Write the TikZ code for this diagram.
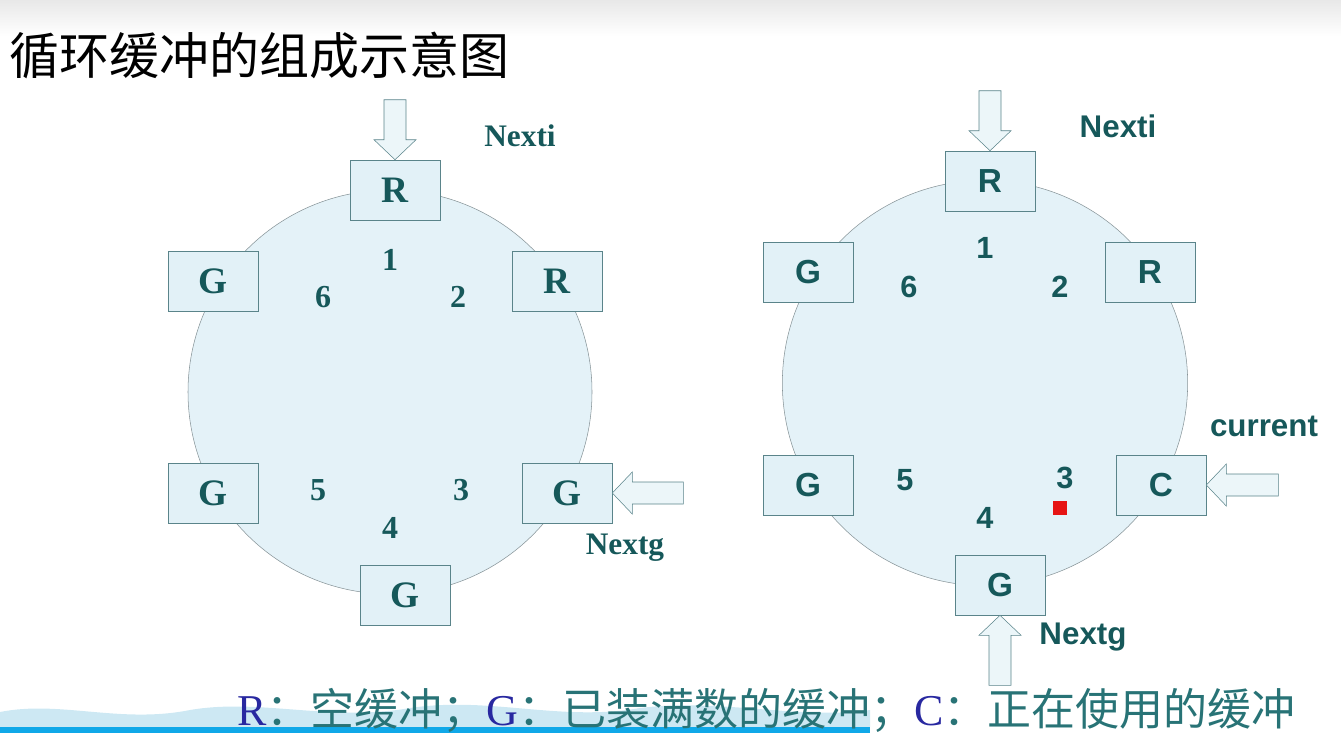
\documentclass[tikz,border=0pt]{standalone}
\usepackage{fontspec}
\setmainfont{Liberation Serif}
\setsansfont{Liberation Sans}
\newfontfamily\cjk{Noto Sans CJK SC}
\usetikzlibrary{positioning}
\definecolor{ringfill}{RGB}{228,242,248}
\definecolor{ringline}{RGB}{135,148,152}
\definecolor{boxfill}{RGB}{226,241,247}
\definecolor{boxline}{RGB}{90,132,138}
\definecolor{arrowfill}{RGB}{236,246,249}
\definecolor{tealtext}{RGB}{22,88,90}
\definecolor{legblue}{RGB}{40,40,160}
\definecolor{legteal}{RGB}{40,115,118}
\definecolor{wavefill}{RGB}{205,232,243}
\definecolor{barblue}{RGB}{16,168,232}
\tikzset{ring/.style={circle, draw=ringline, fill=ringfill, inner sep=0pt, thin}}
\tikzset{buf box/.style={draw=boxline, fill=boxfill, thin, minimum width=67.5pt, minimum height=45pt, inner sep=0pt, text=tealtext, font=\rmfamily\bfseries\fontsize{28}{28}\selectfont}}
\tikzset{buf box sf/.style={buf box, font=\sffamily\bfseries\fontsize{25}{25}\selectfont}}
\tikzset{buf num/.style={text=tealtext, inner sep=0pt, font=\rmfamily\bfseries\fontsize{24}{24}\selectfont}}
\tikzset{buf num sf/.style={buf num, font=\sffamily\bfseries\fontsize{23}{23}\selectfont}}
\tikzset{ptr label/.style={text=tealtext, inner sep=0pt, font=\rmfamily\bfseries\fontsize{23.5}{23.5}\selectfont}}
\tikzset{ptr label sf/.style={ptr label, font=\sffamily\bfseries\fontsize{23.5}{23.5}\selectfont}}
\tikzset{ptr arrow/.style={draw=boxline, fill=arrowfill, thin, line join=miter}}
\tikzset{in arrow/.pic={\draw[ptr arrow] (0,0) -- (20,-21) -- (20,-11) -- (#1,-11) -- (#1,11) -- (20,11) -- (20,21) -- cycle;}}

\begin{document}
\begin{tikzpicture}[x=0.75pt,y=-0.75pt]
	\useasboundingbox (0,0) rectangle (1341,733);
	\shade[top color=black!9, bottom color=white] (0,0) rectangle (1341,36);

	% title
	\node[anchor=west, inner sep=0pt, font=\cjk\fontsize{37.5}{37.5}\selectfont] (title) at (9,55) {循环缓冲的组成示意图};

	% left ring
	\node[ring, minimum size=303pt] (ringL) at (390,392) {};
	\node[buf box] (rL1) at (395,190) {R};
	\node[buf box] (gL6) at (213,281) {G};
	\node[buf box] (rL2) at (557,281) {R};
	\node[buf box] (gL5) at (213,493) {G};
	\node[buf box] (gL3) at (567,493) {G};
	\node[buf box] (gL4) at (405,595) {G};

	\node[buf num] (nL1) at (390,260) {1};
	\node[buf num] (nL2) at (458,297) {2};
	\node[buf num] (nL6) at (323,297) {6};
	\node[buf num] (nL5) at (318,490) {5};
	\node[buf num] (nL3) at (461,490) {3};
	\node[buf num] (nL4) at (390,528) {4};

	\pic[rotate=90] at (rL1.north) {in arrow=60};
	\pic at (gL3.east) {in arrow=71};
	\node[ptr label] (nextiL) at (520,136) {Nexti};
	\node[ptr label] (nextgL) at (625,548) {Nextg};

	% right ring
	\node[ring, minimum size=304pt] (ringR) at (985,383) {};
	\node[buf box sf] (rR1) at (990,181) {R};
	\node[buf box sf] (gR6) at (808,272) {G};
	\node[buf box sf] (rR2) at (1150,272) {R};
	\node[buf box sf] (gR5) at (808,485) {G};
	\node[buf box sf] (cR3) at (1161,485) {C};
	\node[buf box sf] (gR4) at (1000,585) {G};

	\node[buf num sf] (nR1) at (985,248) {1};
	\node[buf num sf] (nR2) at (1060,287) {2};
	\node[buf num sf] (nR6) at (909,287) {6};
	\node[buf num sf] (nR5) at (905,480) {5};
	\node[buf num sf] (nR3) at (1065,478) {3};
	\node[buf num sf] (nR4) at (985,518) {4};
	\node[fill={rgb,255:red,230;green,20;blue,20}, minimum size=10.5pt, inner sep=0pt] (mark) at (1060,508) {};

	\pic[rotate=90] at (rR1.north) {in arrow=60};
	\pic at (cR3.east) {in arrow=72};
	\pic[rotate=-90] at (gR4.south) {in arrow=70};
	\node[ptr label sf] (nextiR) at (1118,126) {Nexti};
	\node[ptr label sf] (currentR) at (1264,426) {current};
	\node[ptr label sf] (nextgR) at (1083,637) {Nextg};

	% legend strip
	\fill[wavefill] (0,727) -- (0,712) .. controls (60,700) and (120,724) .. (190,710)
		.. controls (260,698) and (330,722) .. (410,708) .. controls (490,696) and (560,722) .. (640,708)
		.. controls (720,698) and (800,720) .. (870,710) -- (870,727) -- cycle;
	\fill[barblue] (0,727) rectangle (870,733);
	\node[anchor=west, inner sep=0pt, text=legteal, font=\cjk\fontsize{33}{33}\selectfont] (legend) at (237,710)
		{{\rmfamily\color{legblue}R}：空缓冲；{\rmfamily\color{legblue}G}：已装满数的缓冲；{\rmfamily\color{legblue}C}：正在使用的缓冲};
\end{tikzpicture}
\end{document}
